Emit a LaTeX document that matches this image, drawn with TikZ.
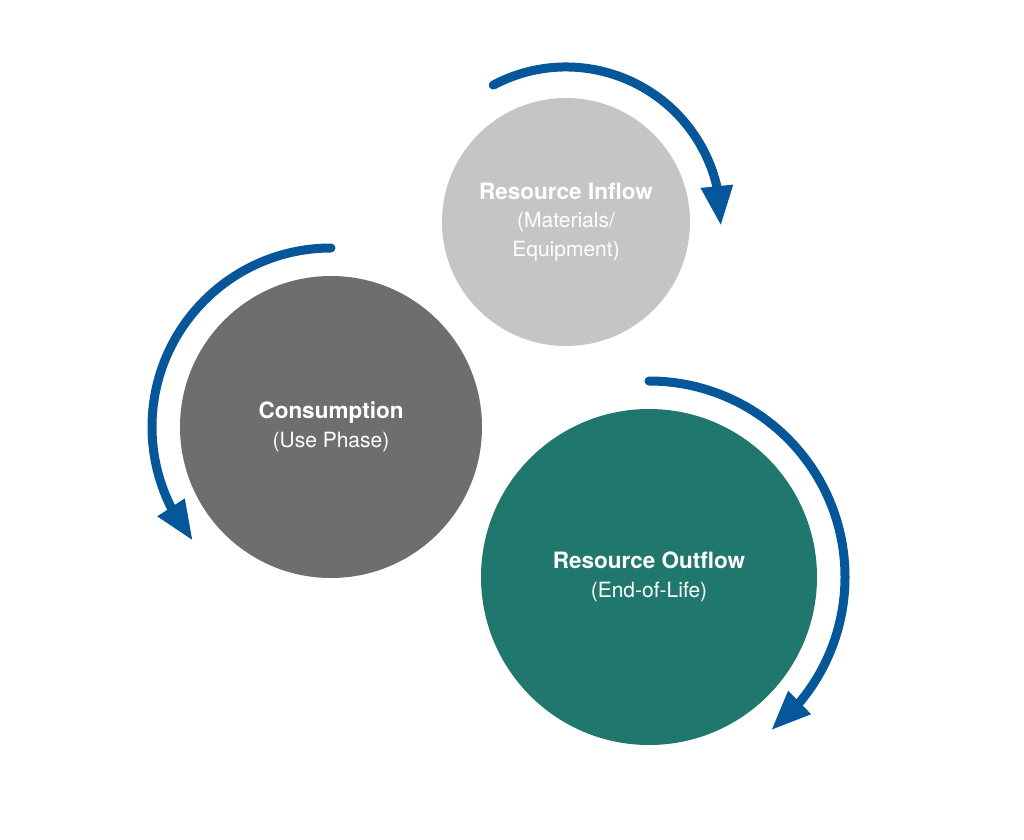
\documentclass[tikz,border=0pt]{standalone}
\usepackage{fontspec}
\setmainfont{TeX Gyre Heros}
\usetikzlibrary{arrows.meta,bending,calc}
\definecolor{inflowgrey}{HTML}{C4C5C7}
\definecolor{usegrey}{HTML}{6D6E70}
\definecolor{outteal}{HTML}{20776D}
\definecolor{arrowblue}{HTML}{06579A}
\newcommand{\phasetitle}[1]{{\fontsize{22.5}{28.5}\selectfont\bfseries #1}}
\begin{document}
\begin{tikzpicture}[x=1pt,y=1pt,
  phase/.style={circle, inner sep=0pt, minimum size=#1, text=white, align=center,
    font=\fontsize{21}{28.5}\selectfont},
  flow/.style={draw=arrowblue, line width=9pt, line cap=round,
    -{Triangle[width=30pt,length=40pt,flex]}}]
\fill[white] (0,0) rectangle (1024,839);
\useasboundingbox (0,0) rectangle (1024,839);
\node[phase=248pt, fill=inflowgrey] (inflow) at (566,617)
  {\phasetitle{Resource Inflow}\\(Materials/\\Equipment)};
\node[phase=302pt, fill=usegrey] (use) at (331,412)
  {\phasetitle{Consumption}\\(Use Phase)};
\node[phase=336pt, fill=outteal] (out) at (649,262)
  {\phasetitle{Resource Outflow}\\(End-of-Life)};
\draw[flow] ($(inflow.center)+(118:155)$) arc[start angle=118, end angle=-1.5, radius=155];
\draw[flow] ($(use.center)+(90:179)$) arc[start angle=90, end angle=219.5, radius=179];
\draw[flow] ($(out.center)+(90:196)$) arc[start angle=90, end angle=-51.5, radius=196];
\end{tikzpicture}
\end{document}
